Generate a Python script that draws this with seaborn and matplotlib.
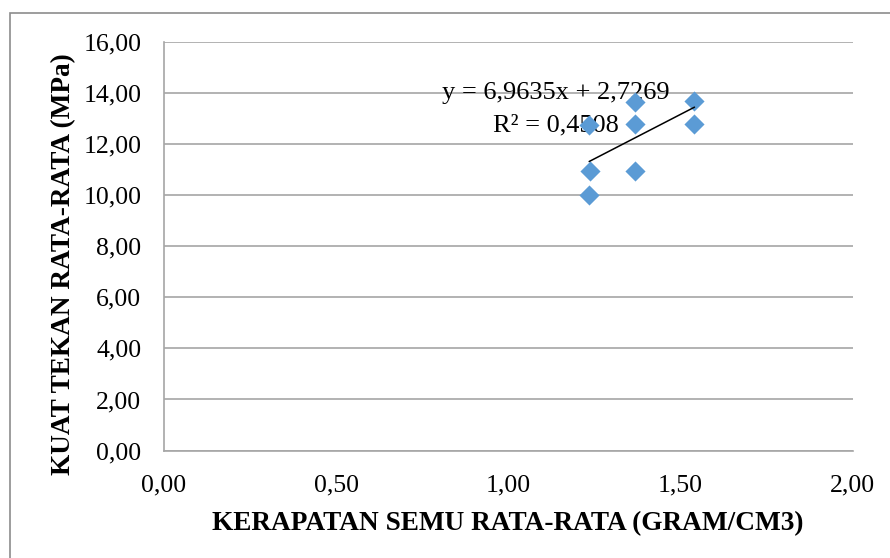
import matplotlib
matplotlib.use("Agg")
import matplotlib.pyplot as plt
from matplotlib.patches import Rectangle
import numpy as np
import pandas as pd
import seaborn as sns

# Average apparent density (gram/cm3) and average compressive strength (MPa)
density = [1.235, 1.237, 1.235, 1.367, 1.367, 1.367, 1.541, 1.541]
strength = [12.77, 10.96, 10.02, 13.67, 12.79, 10.96, 13.70, 12.79]

# Linear trendline reported on the chart
slope = 6.9635
intercept = 2.7269
r_squared = 0.4508

x_ticks = [0.0, 0.5, 1.0, 1.5, 2.0]
y_ticks = [0, 2, 4, 6, 8, 10, 12, 14, 16]

df = pd.DataFrame({"density": density, "strength": strength})

sns.set_theme(style="white")
plt.rcParams["font.family"] = ["Liberation Serif", "DejaVu Serif"]
plt.rcParams["text.color"] = "black"
plt.rcParams["axes.labelcolor"] = "black"
plt.rcParams["xtick.labelcolor"] = "black"
plt.rcParams["ytick.labelcolor"] = "black"

W, H = 890, 558
fig = plt.figure(figsize=(W / 100, H / 100), dpi=100)
ax = fig.add_axes([164 / W, 1 - 450.5 / H, (852.5 - 164) / W, (450.5 - 42.3) / H])

# outer chart frame
fig.patches.append(Rectangle((9.5 / W, -0.05), 1.2, 1 - 13 / H + 0.05,
                             transform=fig.transFigure, fill=False,
                             edgecolor="#8c8c8c", linewidth=1.2, zorder=0))

ax.set_xlim(0, 2)
ax.set_ylim(0, 16)
ax.set_xticks(x_ticks)
ax.set_yticks(y_ticks)

def comma(v):
    return f"{v:.2f}".replace(".", ",")

ax.set_xticklabels([comma(v) for v in x_ticks], fontsize=18.5)
ax.set_yticklabels([comma(v) for v in y_ticks], fontsize=18.5)

ax.grid(axis="y", color="#a6a6a6", linewidth=1.2)
ax.grid(axis="x", visible=False)
for side in ["top", "right"]:
    ax.spines[side].set_visible(False)
for side in ["left", "bottom"]:
    ax.spines[side].set_color("#a6a6a6")
    ax.spines[side].set_linewidth(1.2)
ax.tick_params(axis="x", direction="out", length=4.5, width=1.2,
               color="#a6a6a6", labelcolor="black", pad=13)
ax.tick_params(axis="y", direction="out", length=5, width=1.2,
               color="#a6a6a6", labelcolor="black", pad=11.3)

sns.scatterplot(data=df, x="density", y="strength", ax=ax, marker="D",
                s=105, color="#5B9BD5", edgecolor="#5B9BD5", linewidth=0,
                zorder=3, legend=False)

xs = np.array([min(density), max(density)])
ax.plot(xs, slope * xs + intercept, color="black", linewidth=1.1, zorder=4)

fmt = lambda v: f"{v:.4f}".replace(".", ",")
ax.text(1.138, 14.01, f"y = {fmt(slope)}x + {fmt(intercept)}", ha="center",
        va="center", fontsize=19, zorder=2)
ax.text(1.138, 12.76, f"R² = {fmt(r_squared)}", ha="center", va="center",
        fontsize=19, zorder=2)

ax.set_xlabel("KERAPATAN SEMU RATA-RATA (GRAM/CM3)", fontsize=19.6,
              fontweight="bold", labelpad=10)
ax.set_ylabel("KUAT TEKAN RATA-RATA (MPa)", fontsize=19.6,
              fontweight="bold")
ax.yaxis.set_label_coords(-0.1275, 0.457)

fig.savefig("out.png", dpi=100)
